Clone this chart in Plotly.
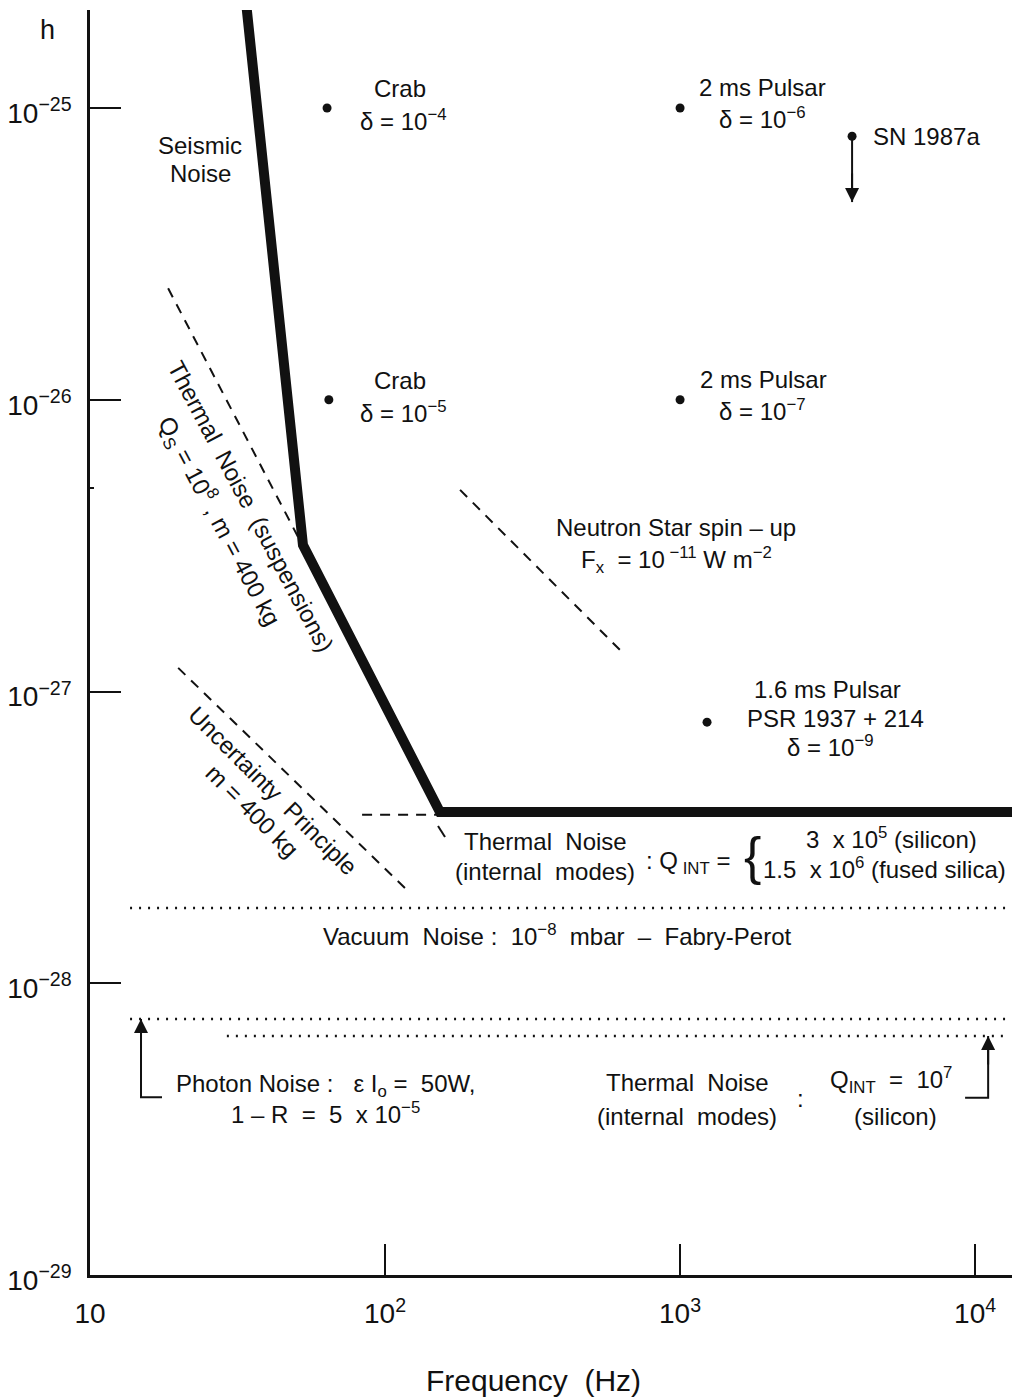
import math
import plotly.graph_objects as go

# ---------------- data ----------------
# sensitivity curve (thick line): seismic wall -> suspension thermal -> internal thermal floor
sens_f = [33.0, 52.7, 153.5, 14000.0]
sens_h = [2.9e-25, 3.18e-27, 3.86e-28, 3.86e-28]

# dashed reference lines
thermal_susp_f = [18.4, 50.7]
thermal_susp_h = [2.41e-26, 3.39e-27]
thermal_susp_tail_f = [151.2, 159.7]
thermal_susp_tail_h = [3.46e-28, 3.17e-28]
uncert_f = [19.9, 121.5]
uncert_h = [1.205e-27, 2.04e-28]
spinup_f = [179.6, 626.0]
spinup_h = [4.91e-27, 1.387e-27]
internal_ext_f = [83.6, 153.5]
internal_ext_h = [3.78e-28, 3.78e-28]

# dotted noise floors
vacuum_f = [13.67, 12940.0]
vacuum_h = [1.81e-28, 1.81e-28]
photon_f = [13.67, 12940.0]
photon_h = [7.54e-29, 7.54e-29]
thermal_si_f = [29.1, 12940.0]
thermal_si_h = [6.59e-29, 6.59e-29]

# sources (dots)
src_names = ["Crab 1e-4", "Crab 1e-5", "2ms 1e-6", "2ms 1e-7", "1.6ms", "SN1987a"]
src_f = [63.6, 64.5, 1000.0, 1000.0, 1234.0, 3828.0]
src_h = [1.0e-25, 1.0e-26, 1.0e-25, 1.0e-26, 7.85e-28, 8.0e-26]

# arrows (L-shaped pointers and SN upper-limit arrow)
photon_arrow_f = [17.54, 14.89, 14.89]
photon_arrow_h = [4.07e-29, 4.07e-29, 7.54e-29]
thermal_arrow_f = [9247.0, 11070.0, 11070.0]
thermal_arrow_h = [4.05e-29, 4.05e-29, 6.59e-29]
sn_arrow_f = [3828.0, 3828.0]
sn_arrow_h = [8.0e-26, 4.76e-26]

# axes
x_tickvals = [10, 100, 1000, 10000]
x_ticktext = ["10", "10<sup>2</sup>", "10<sup>3</sup>", "10<sup>4</sup>"]
y_tickvals = [1e-29, 1e-28, 1e-27, 1e-26, 1e-25]
y_ticktext = ["10<sup>\u221229</sup>", "10<sup>\u221228</sup>", "10<sup>\u221227</sup>",
              "10<sup>\u221226</sup>", "10<sup>\u221225</sup>"]
x_range_log = [1.0, 4.125]
y_range_log = [-29.0, -24.664]

# ---------------- layout helpers ----------------
W, H = 1015, 1397
ML, MR, MT, MB = 90, 3, 10, 122
PW, PH = W - ML - MR, H - MT - MB
FONT = "Liberation Sans, Arial, Helvetica, sans-serif"


def px(xp, yp):
    """pixel position of a label -> paper coordinates"""
    return (xp - ML) / PW, (H - MB - yp) / PH


fig = go.Figure()

BLACK = "#111111"


def line(xs, ys, width=2, dash=None):
    fig.add_trace(go.Scatter(x=xs, y=ys, mode="lines", hoverinfo="skip",
                             line=dict(color=BLACK, width=width, dash=dash),
                             showlegend=False))


line(sens_f, sens_h, width=10)
DASH = "10px,8px"
line(thermal_susp_f, thermal_susp_h, dash=DASH)
line(thermal_susp_tail_f, thermal_susp_tail_h, width=2)
line(uncert_f, uncert_h, dash=DASH)
line(spinup_f, spinup_h, dash=DASH)
line(internal_ext_f, internal_ext_h, dash=DASH)
DOT = "2px,7px"
line(vacuum_f, vacuum_h, width=2.5, dash=DOT)
line(photon_f, photon_h, width=2.5, dash=DOT)
line(thermal_si_f, thermal_si_h, width=2.5, dash=DOT)
line(photon_arrow_f, photon_arrow_h, width=2)
line(thermal_arrow_f, thermal_arrow_h, width=2)
line(sn_arrow_f, sn_arrow_h, width=2)

fig.add_trace(go.Scatter(x=src_f, y=src_h, mode="markers", text=src_names,
                         hoverinfo="text", showlegend=False,
                         marker=dict(color=BLACK, size=9)))

# arrowheads at the tips of the pointer lines
for f_tip, h_tip, ay in [(photon_arrow_f[-1], photon_arrow_h[-1], 30),
                         (thermal_arrow_f[-1], thermal_arrow_h[-1], 30),
                         (sn_arrow_f[-1], sn_arrow_h[-1], -30)]:
    fig.add_annotation(x=math.log10(f_tip), y=math.log10(h_tip), xref="x", yref="y",
                       ax=0, ay=ay, text="", showarrow=True, arrowhead=2,
                       arrowsize=1.4, arrowwidth=2, arrowcolor=BLACK)

# ---------------- text ----------------
labels = [
    ("h", 47, 30, 27, 0, "center"),
    ("Seismic", 200, 145, 24, 0, "center"),
    ("Noise", 200, 173, 24, 0, "center"),
    ("Crab", 400, 89, 24, 0, "center"),
    ("\u03b4 = 10<sup>\u22124</sup>", 403, 120, 24, 0, "center"),
    ("Crab", 400, 381, 24, 0, "center"),
    ("\u03b4 = 10<sup>\u22125</sup>", 403, 412, 24, 0, "center"),
    ("2 ms Pulsar", 762, 88, 24, 0, "center"),
    ("\u03b4 = 10<sup>\u22126</sup>", 762, 118, 24, 0, "center"),
    ("SN 1987a", 871, 137, 24, 0, "left"),
    ("2 ms Pulsar", 763, 380, 24, 0, "center"),
    ("\u03b4 = 10<sup>\u22127</sup>", 762, 410, 24, 0, "center"),
    ("Neutron Star spin \u2013 up", 676, 527, 24, 0, "center"),
    ("F<sub>x</sub>  = 10<sup> \u221211</sup> W m<sup>\u22122</sup>", 676, 560, 24, 0, "center"),
    ("1.6 ms Pulsar", 827, 689, 24, 0, "center"),
    ("PSR 1937 + 214", 835, 718, 24, 0, "center"),
    ("\u03b4 = 10<sup>\u22129</sup>", 830, 746, 24, 0, "center"),
    ("Thermal  Noise  (suspensions)", 250, 506, 24, 62, "center"),
    ("Q<sub>S</sub> = 10<sup>8</sup> , m = 400 kg", 219, 521, 24, 62, "center"),
    ("Uncertainty  Principle", 273, 790, 24, 45, "center"),
    ("m = 400 kg", 252, 810, 24, 45, "center"),
    ("Thermal  Noise", 545, 841, 24, 0, "center"),
    ("(internal  modes)", 545, 871, 24, 0, "center"),
    (": Q<sub> INT</sub> =", 688, 862, 24, 0, "center"),
    ("{", 752, 856, 52, 0, "center"),
    ("3  x 10<sup>5</sup> (silicon)", 891, 838, 24, 0, "center"),
    ("1.5  x 10<sup>6</sup> (fused silica)", 884, 868, 24, 0, "center"),
    ("Vacuum  Noise :  10<sup>\u22128</sup>  mbar  \u2013  Fabry-Perot", 557, 935, 24, 0, "center"),
    ("Photon Noise :   \u03b5 I<sub>o</sub> =  50W,", 326, 1085, 24, 0, "center"),
    ("1 \u2013 R  =  5  x 10<sup>\u22125</sup>", 325, 1113, 24, 0, "center"),
    ("Thermal  Noise", 687, 1082, 24, 0, "center"),
    ("(internal  modes)", 687, 1116, 24, 0, "center"),
    (":", 800, 1098, 24, 0, "center"),
    ("Q<sub>INT</sub>  =  10<sup>7</sup>", 891, 1080, 24, 0, "center"),
    ("(silicon)", 895, 1116, 24, 0, "center"),
    ("Frequency  (Hz)", 533, 1380, 30, 0, "center"),
]
for txt, xp, yp, size, ang, anchor in labels:
    xx, yy = px(xp, yp)
    fig.add_annotation(x=xx, y=yy, xref="paper", yref="paper", text=txt,
                       showarrow=False, xanchor=anchor, yanchor="middle",
                       textangle=ang, font=dict(size=size, color=BLACK, family=FONT))

axis_common = dict(showline=True, linecolor=BLACK, linewidth=2.5, showgrid=False,
                   zeroline=False, ticks="inside", ticklen=31, tickwidth=2,
                   tickcolor=BLACK, tickmode="array", mirror=False,
                   tickfont=dict(size=28, color=BLACK, family=FONT))

fig.update_xaxes(type="log", range=x_range_log, tickvals=x_tickvals,
                 ticktext=x_ticktext, ticklabelstandoff=12, **axis_common)
fig.update_yaxes(type="log", range=y_range_log, tickvals=y_tickvals,
                 ticktext=y_ticktext, ticklabelstandoff=10, ticklabelshift=5,
                 minor=dict(tickvals=[5e-27], ticks="inside", ticklen=4,
                            tickwidth=2, tickcolor=BLACK),
                 **axis_common)

fig.update_layout(width=W, height=H, margin=dict(l=ML, r=MR, t=MT, b=MB),
                  paper_bgcolor="white", plot_bgcolor="white",
                  font=dict(family=FONT, color=BLACK), showlegend=False)

fig.write_html("out.html", config={"displayModeBar": False},
               post_script="document.body.style.margin='0';"
                           "document.body.style.overflow='hidden';")
